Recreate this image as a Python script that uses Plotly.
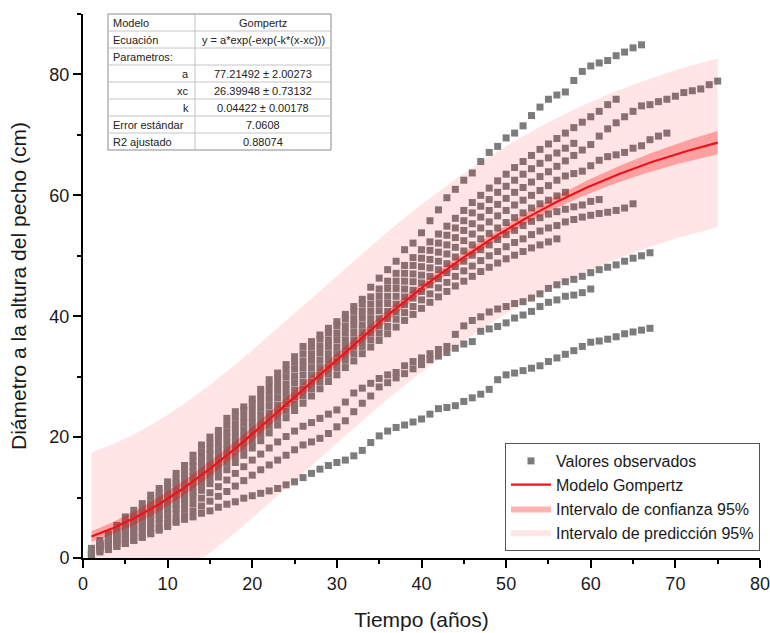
import numpy as np
import plotly.graph_objects as go

# ---- Parámetros del ajuste Gompertz (tabla) ----
a_val, a_err = 77.21492, 2.00273
xc_val, xc_err = 26.39948, 0.73132
k_val, k_err = 0.04422, 0.00178
error_estandar = 7.0608
r2_ajustado = 0.88074

# ---- Diámetros observados por árbol (cm), un valor por año ----
arbol_01_inicio = 1
arbol_01 = [1.6, 2.9, 4.0, 5.4, 6.8, 7.9, 9.0, 10.4, 11.5, 12.6, 14.0, 15.3, 17.0, 18.7, 20.0,
            21.1, 23.1, 24.2, 25.0, 26.3, 27.9, 29.5, 30.6, 32.0, 33.3, 35.0, 35.8, 36.9, 38.0,
            39.1, 40.3, 41.6, 42.8, 44.8, 46.3, 47.7, 49.1, 51.0, 52.1, 53.8, 55.8, 57.6, 59.6,
            61.0, 62.5, 63.7, 65.6, 67.1, 68.1, 69.5, 70.3, 71.5, 73.2, 74.6, 75.9, 76.6, 77.1,
            79.0, 80.5, 81.4, 81.9, 82.3, 83.1, 83.7, 84.4, 84.9]
arbol_02_inicio = 1
arbol_02 = [1.2, 2.4, 3.4, 4.6, 5.9, 7.1, 8.2, 9.5, 10.7, 11.8, 13.1, 14.4, 16.0, 17.6, 19.0,
            20.3, 22.0, 23.3, 24.4, 25.5, 27.0, 28.5, 29.8, 31.1, 32.4, 33.8, 35.0, 36.2, 37.3,
            38.4, 39.6, 40.8, 42.0, 43.2, 44.5, 45.8, 47.1, 48.4, 49.7, 51.0, 52.3, 53.6, 54.9,
            56.2, 57.5, 58.8, 60.0, 61.2, 62.4, 63.5, 64.6, 65.6, 66.6, 67.6, 68.5, 69.4, 70.3,
            71.2, 72.1, 73.0, 73.9, 75.0, 75.9]
arbol_03_inicio = 1
arbol_03 = [0.4, 1.5, 2.0, 2.6, 3.3, 4.2, 4.9, 5.7, 6.5, 7.3, 8.2, 9.1, 10.1, 11.2, 12.3,
            13.4, 14.6, 15.8, 17.0, 18.2, 19.4, 20.7, 22.0, 23.2, 24.4, 25.6, 26.8, 28.0, 29.2,
            30.3, 31.5, 32.6, 33.8, 34.9, 36.0, 37.1, 38.2, 39.3, 40.3, 41.3, 42.3, 43.2, 44.1,
            45.0, 45.8, 46.6, 47.4, 48.1, 48.8, 49.5, 50.1, 50.7, 51.3, 51.8, 52.3, 52.8]
arbol_04_inicio = 1
arbol_04 = [0.5, 1.6, 2.2, 2.9, 3.7, 4.6, 5.4, 6.2, 7.1, 7.9, 8.9, 9.9, 10.9, 12.1, 13.3,
            14.4, 15.7, 16.9, 18.1, 19.2, 20.5, 21.8, 23.1, 24.3, 25.5, 26.8, 28.0, 29.2, 30.4,
            31.5, 32.7, 33.8, 35.0, 36.1, 37.2, 38.3, 39.5, 40.6, 41.6, 42.7, 43.7, 44.7, 45.6,
            46.6, 47.5, 48.3, 49.2, 50.0, 50.7, 51.5, 52.2, 52.8, 53.5, 54.1, 54.6, 55.0, 55.6,
            56.0, 56.4, 56.7, 57.0, 57.2, 57.5, 57.9, 58.6]
arbol_05_inicio = 1
arbol_05 = [0.6, 1.8, 2.4, 3.2, 4.0, 5.0, 5.8, 6.8, 7.7, 8.6, 9.6, 10.6, 11.8, 13.0, 14.2,
            15.4, 16.7, 18.0, 19.1, 20.3, 21.6, 22.9, 24.2, 25.5, 26.7, 27.9, 29.1, 30.3, 31.5,
            32.6, 33.8, 35.0, 36.1, 37.3, 38.4, 39.6, 40.7, 41.9, 43.0, 44.1, 45.2, 46.2, 47.2,
            48.2, 49.1, 50.1, 51.0, 51.8, 52.7, 53.5, 54.2, 55.0, 55.7, 56.3, 56.9, 57.3, 57.7,
            58.1, 58.4, 59.0, 59.3]
arbol_06_inicio = 1
arbol_06 = [0.7, 1.9, 2.6, 3.5, 4.4, 5.4, 6.3, 7.3, 8.3, 9.2, 10.3, 11.4, 12.6, 13.9, 15.2,
            16.4, 17.8, 19.0, 20.2, 21.3, 22.7, 24.0, 25.3, 26.6, 27.8, 29.1, 30.3, 31.5, 32.7,
            33.8, 35.0, 36.1, 37.3, 38.5, 39.6, 40.8, 42.0, 43.2, 44.3, 45.5, 46.6, 47.7, 48.7,
            49.8, 50.8, 51.8, 52.8, 53.7, 54.6, 55.5, 56.3, 57.1, 57.9, 58.6, 59.2, 59.9, 60.5]
arbol_07_inicio = 1
arbol_07 = [0.9, 2.0, 2.8, 3.7, 4.8, 5.9, 6.8, 7.9, 8.9, 9.9, 11.0, 12.1, 13.5, 14.9, 16.1,
            17.3, 18.8, 20.1, 21.2, 22.4, 23.7, 25.2, 26.5, 27.7, 29.0, 30.3, 31.5, 32.7, 33.8,
            34.9, 36.1, 37.3, 38.5, 39.6, 40.9, 42.1, 43.3, 44.5, 45.7, 46.8, 48.0, 49.1, 50.3,
            51.4, 52.5, 53.6, 54.6, 55.6, 56.6, 57.5, 58.4, 59.2, 60.0, 60.8, 61.6, 62.5, 63.2,
            63.6, 64.0, 64.9, 65.8, 66.4, 66.7, 67.1, 67.8, 68.2, 69.2, 69.8, 70.3]
arbol_08_inicio = 1
arbol_08 = [1.0, 2.1, 3.0, 4.0, 5.2, 6.3, 7.3, 8.4, 9.5, 10.5, 11.7, 12.9, 14.3, 15.8, 17.1,
            18.3, 19.9, 21.2, 22.3, 23.4, 24.8, 26.3, 27.6, 28.8, 30.1, 31.5, 32.7, 33.9, 35.0,
            36.1, 37.3, 38.5, 39.7, 40.8, 42.1, 43.3, 44.6, 45.8, 47.0, 48.2, 49.4, 50.6, 51.8,
            53.0, 54.2, 55.3, 56.4, 57.5, 58.5, 59.5, 60.5, 61.3, 62.2, 63.1, 63.9, 64.8, 65.7,
            66.6, 67.5, 68.4, 69.8, 71.0, 72.0, 73.0, 73.9, 74.8, 75.0, 75.5, 75.9, 76.4, 77.0,
            77.3, 77.6, 78.3, 78.9]
arbol_09_inicio = 1
arbol_09 = [1.1, 2.3, 3.2, 4.3, 5.5, 6.7, 7.7, 8.9, 10.1, 11.2, 12.4, 13.6, 15.2, 16.7, 18.0,
            19.3, 20.9, 22.2, 23.3, 24.5, 25.9, 27.4, 28.7, 30.0, 31.3, 32.6, 33.8, 35.0, 36.1,
            37.2, 38.4, 39.6, 40.8, 42.0, 43.3, 44.6, 45.8, 47.1, 48.4, 49.6, 50.9, 52.1, 53.4,
            54.6, 55.8, 57.1, 58.2, 59.3, 60.5, 61.5, 62.5, 63.5, 64.4, 65.3, 66.2, 67.0, 67.8,
            68.6]
arbol_10_inicio = 1
arbol_10 = [0.8, 1.3, 1.8, 2.4, 3.0, 3.6, 4.3, 5.0, 5.7, 6.5, 7.3, 8.1, 9.0, 9.9, 10.8,
            11.8, 12.9, 14.0, 15.1, 16.2, 17.2, 18.2, 19.2, 20.1, 21.0, 21.8, 22.4, 23.1, 23.8,
            24.5, 25.8, 27.3, 28.1, 28.9, 29.7, 30.3, 30.7, 31.8, 32.5, 33.1, 33.8, 34.5, 35.0,
            37.0, 38.4, 39.3, 39.9, 40.7, 41.2, 41.6, 42.1, 42.4, 43.0, 43.7, 44.6, 45.2, 45.7,
            46.1, 46.6, 47.2, 47.7, 48.1, 48.5, 49.1, 49.6, 50.0, 50.5]
arbol_11_inicio = 1
arbol_11 = [0.6, 1.0, 1.4, 1.9, 2.4, 3.0, 3.6, 4.2, 4.9, 5.6, 6.3, 7.0, 7.8, 8.6, 9.4,
            10.2, 11.0, 11.9, 12.8, 13.7, 14.6, 15.4, 16.2, 17.0, 17.9, 18.7, 19.2, 19.8, 20.6,
            21.7, 22.7, 24.2, 25.6, 26.8, 28.3, 29.0, 29.8, 30.5, 31.3, 32.0, 32.8, 33.4, 34.0,
            34.7, 35.4, 35.8, 37.5, 37.9, 38.3, 38.9, 39.7, 40.2, 40.8, 41.6, 42.3, 42.7, 43.3,
            43.5, 43.9, 44.5]
arbol_12_inicio = 4
arbol_12 = [2.0, 2.4, 2.9, 3.4, 4.0, 4.6, 5.2, 5.9, 6.4, 6.8, 7.4, 7.8, 8.4, 8.9, 9.3,
            9.9, 10.3, 10.7, 11.1, 11.5, 12.1, 12.6, 13.3, 14.0, 14.7, 15.3, 15.8, 16.2, 16.9,
            17.8, 19.1, 20.2, 21.0, 21.6, 22.0, 22.5, 23.0, 23.8, 24.7, 24.9, 25.2, 25.9, 26.5,
            27.1, 27.9, 29.5, 30.3, 30.6, 31.0, 31.4, 31.8, 32.5, 33.1, 33.7, 34.3, 35.0, 35.7,
            35.9, 36.2, 36.6, 37.1, 37.4, 37.7, 38.0]

arboles = [
    (arbol_01_inicio, arbol_01), (arbol_02_inicio, arbol_02), (arbol_03_inicio, arbol_03),
    (arbol_04_inicio, arbol_04), (arbol_05_inicio, arbol_05), (arbol_06_inicio, arbol_06),
    (arbol_07_inicio, arbol_07), (arbol_08_inicio, arbol_08), (arbol_09_inicio, arbol_09),
    (arbol_10_inicio, arbol_10), (arbol_11_inicio, arbol_11), (arbol_12_inicio, arbol_12),
]

tiempo_obs, dap_obs = [], []
for inicio, valores in arboles:
    tiempo_obs.extend(range(inicio, inicio + len(valores)))
    dap_obs.extend(valores)

# ---- Curva ajustada y bandas de confianza / predicción ----
t = np.linspace(1, 75, 400)
u = np.exp(-k_val * (t - xc_val))
y_fit = a_val * np.exp(-u)

# Jacobiano respecto a (a, xc, k) y correlación aproximada entre estimadores
J = np.column_stack([y_fit / a_val, -y_fit * u * k_val, y_fit * (t - xc_val) * u])
errs = np.array([a_err, xc_err, k_err])
corr = np.array([[1.0, 0.8, -0.9],
                 [0.8, 1.0, -0.6],
                 [-0.9, -0.6, 1.0]])
cov = corr * np.outer(errs, errs)
var_fit = np.einsum("ij,jk,ik->i", J, cov, J)
t_crit = 1.96
conf_hw = t_crit * np.sqrt(var_fit)
pred_hw = t_crit * np.sqrt(var_fit + error_estandar ** 2)

band_x = np.concatenate([t, t[::-1]])

fig = go.Figure()

fig.add_trace(go.Scatter(
    x=tiempo_obs, y=dap_obs, mode="markers", name="Valores observados",
    marker=dict(symbol="square", size=7, color="rgb(124,124,124)", line=dict(width=0)),
    legendrank=1,
))
fig.add_trace(go.Scatter(
    x=band_x, y=np.concatenate([y_fit + pred_hw, (y_fit - pred_hw)[::-1]]),
    mode="lines", fill="toself", fillcolor="rgba(255,0,0,0.10)",
    line=dict(width=0, color="rgba(255,0,0,0)"), hoverinfo="skip",
    name="Intervalo de predicción 95%", legendrank=4,
))
fig.add_trace(go.Scatter(
    x=band_x, y=np.concatenate([y_fit + conf_hw, (y_fit - conf_hw)[::-1]]),
    mode="lines", fill="toself", fillcolor="rgba(255,0,0,0.30)",
    line=dict(width=0, color="rgba(255,0,0,0)"), hoverinfo="skip",
    name="Intervalo de confianza 95%", legendrank=3,
))
fig.add_trace(go.Scatter(
    x=t, y=y_fit, mode="lines", name="Modelo Gompertz",
    line=dict(color="rgb(235,20,24)", width=2.2), legendrank=2,
))

# ---- Tabla de parámetros ----
PL, PR, PT, PB = 83, 760, 14, 558


def px_x(px):
    return (px - PL) / (PR - PL)


def px_y(py):
    return (PB - py) / (PB - PT)


filas = [
    ("Modelo", "Gompertz", "left"),
    ("Ecuación", "y = a*exp(-exp(-k*(x-xc)))", "left"),
    ("Parametros:", "", "left"),
    ("a", f"{a_val:.5f} ± {a_err:.5f}", "right"),
    ("xc", f"{xc_val:.5f} ± {xc_err:.5f}", "right"),
    ("k", f"{k_val:.5f} ± {k_err:.5f}", "right"),
    ("Error estándar", f"{error_estandar:.4f}", "left"),
    ("R2 ajustado", f"{r2_ajustado:.5f}", "left"),
]

tx0, tx1, txm = 108, 331, 195
ty0, row_h = 14, 17
ty1 = ty0 + row_h * len(filas)

shapes = [dict(type="rect", xref="paper", yref="paper",
               x0=px_x(tx0), x1=px_x(tx1), y0=px_y(ty0), y1=px_y(ty1),
               line=dict(color="#8a8a8a", width=1), fillcolor="white", layer="above")]
for i in range(1, len(filas)):
    yy = px_y(ty0 + row_h * i)
    shapes.append(dict(type="line", xref="paper", yref="paper",
                       x0=px_x(tx0), x1=px_x(tx1), y0=yy, y1=yy,
                       line=dict(color="#c4c4c4", width=1), layer="above"))
shapes.append(dict(type="line", xref="paper", yref="paper",
                   x0=px_x(txm), x1=px_x(txm), y0=px_y(ty0), y1=px_y(ty1),
                   line=dict(color="#c4c4c4", width=1), layer="above"))

annotations = []
for i, (izq, der, alin) in enumerate(filas):
    yc = px_y(ty0 + row_h * i + row_h / 2)
    annotations.append(dict(
        xref="paper", yref="paper", x=px_x(tx0 + 3 if alin == "left" else txm - 4), y=yc,
        xanchor=alin, yanchor="middle", text=izq, showarrow=False,
        font=dict(size=11, color="#222222")))
    if der:
        annotations.append(dict(
            xref="paper", yref="paper", x=px_x((txm + tx1) / 2), y=yc,
            xanchor="center", yanchor="middle", text=der, showarrow=False,
            font=dict(size=11, color="#222222")))

fig.update_layout(
    width=770, height=633,
    margin=dict(l=PL, r=770 - PR, t=PT, b=633 - PB, autoexpand=False),
    paper_bgcolor="white", plot_bgcolor="white",
    font=dict(family="Liberation Sans, Arial, sans-serif", color="#1a1a1a"),
    shapes=shapes, annotations=annotations,
    legend=dict(
        x=1.0, xanchor="right", y=px_y(497), yanchor="middle",
        bgcolor="white", bordercolor="#555555", borderwidth=1,
        font=dict(size=16, color="#1a1a1a"), tracegroupgap=0,
        itemwidth=40,
    ),
    showlegend=True,
)

fig.update_xaxes(
    range=[0, 80], showline=True, linecolor="black", linewidth=2,
    ticks="outside", ticklen=8, tickwidth=2, tickcolor="black", dtick=10, tick0=0,
    minor=dict(ticks="outside", ticklen=4, tickwidth=1.5, tickcolor="black", dtick=5),
    showgrid=False, zeroline=False, automargin=False, ticklabeloverflow="allow",
    tickfont=dict(size=18, color="#1a1a1a"),
    title=dict(text="Tiempo (años)", font=dict(size=21, color="#1a1a1a"), standoff=20),
)
fig.update_yaxes(
    range=[0, 90], showline=True, linecolor="black", linewidth=2,
    ticks="outside", ticklen=8, tickwidth=2, tickcolor="black", dtick=20, tick0=0,
    minor=dict(ticks="outside", ticklen=4, tickwidth=1.5, tickcolor="black", dtick=10),
    showgrid=False, zeroline=False, automargin=False, ticklabeloverflow="allow",
    tickfont=dict(size=18, color="#1a1a1a"),
    title=dict(text="Diámetro a la altura del pecho (cm)", font=dict(size=21, color="#1a1a1a"),
               standoff=17),
)

fig.write_html("out.html")
